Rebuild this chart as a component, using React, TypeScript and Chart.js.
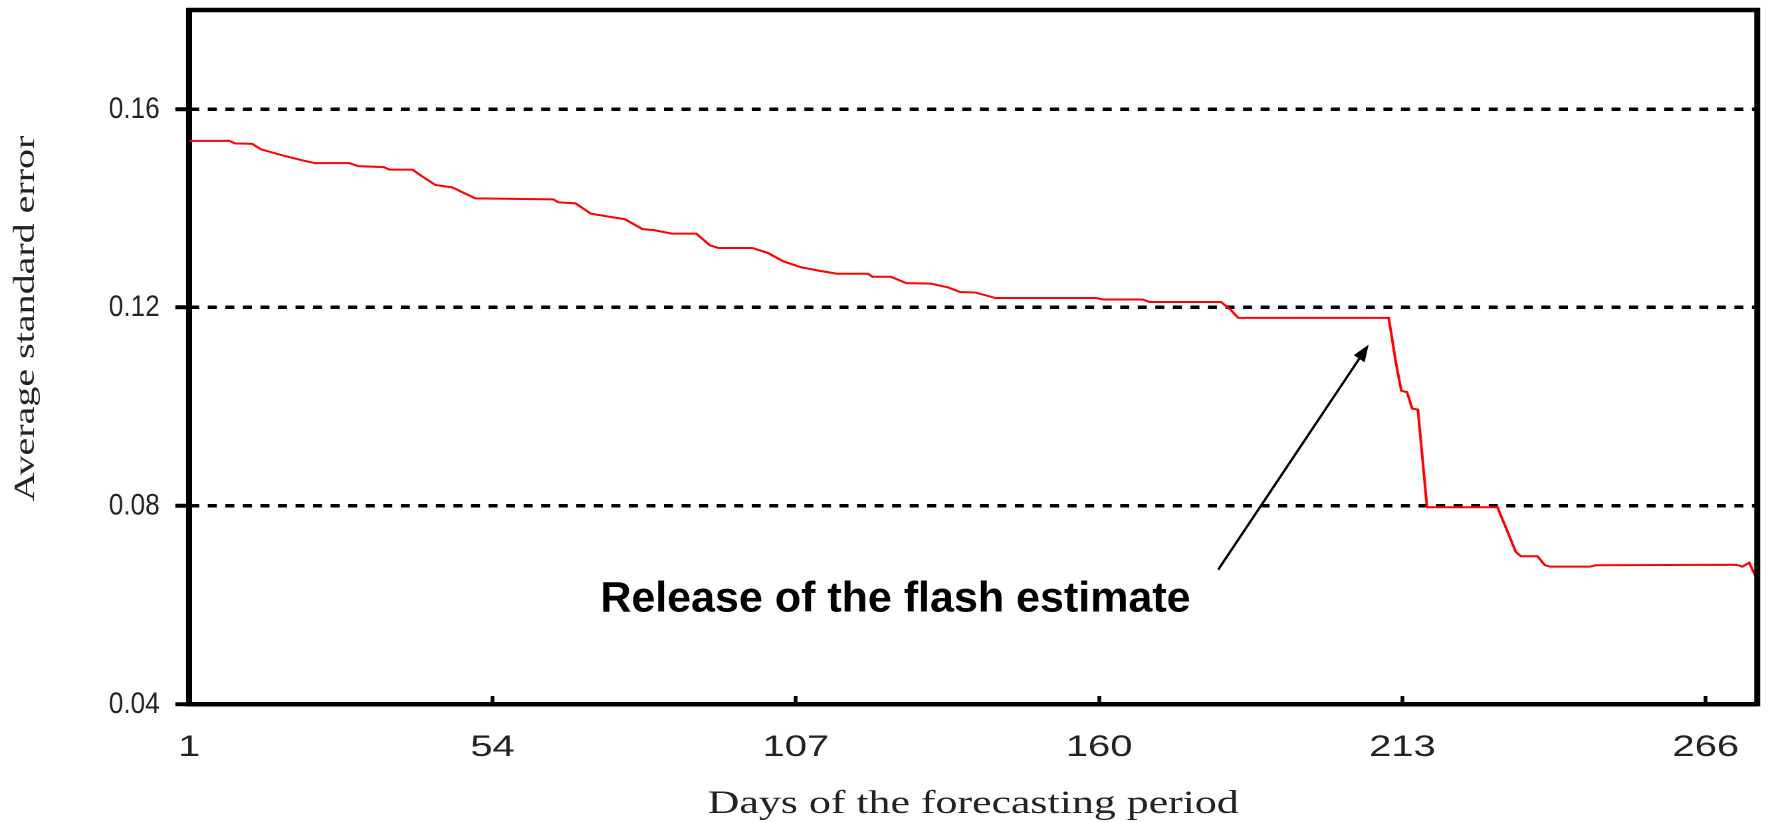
import React, { useEffect, useRef } from 'react';
import { Chart, registerables } from 'chart.js';

Chart.register(...registerables);

// ---- data ----
const days = [1, 8, 9, 12, 13.5, 17.5, 21, 23, 29, 30.5, 35, 36, 40, 42, 44, 47, 48.6, 51, 64.6, 65.5, 68.5, 71.2, 74.4, 77.1, 80.2, 82.2, 85.3, 89.6, 92, 93.5, 99.4, 102.1, 104.8, 107.9, 111.1, 114.2, 119.6, 120.4, 123.6, 126.3, 130.6, 133.7, 135.7, 138.4, 141.9, 159.5, 160.6, 167.6, 168.8, 181.3, 183, 184.3, 210.6, 211.9, 212.8, 213.8, 214.7, 215.7, 217.3, 229.6, 231.5, 232.8, 233.7, 236.6, 237.9, 238.8, 245.8, 246.8, 271.4, 272.4, 273.6, 274.9];
const avgStdError = [0.1536, 0.1536, 0.1531, 0.1530, 0.1519, 0.1506, 0.1496, 0.1491, 0.1491, 0.1485, 0.1483, 0.1478, 0.1478, 0.1462, 0.1447, 0.1442, 0.1433, 0.1420, 0.1418, 0.1412, 0.1410, 0.1389, 0.1383, 0.1378, 0.1358, 0.1356, 0.1349, 0.1349, 0.1325, 0.1320, 0.1320, 0.1310, 0.1293, 0.1281, 0.1274, 0.1268, 0.1268, 0.1262, 0.1262, 0.1249, 0.1248, 0.1240, 0.1231, 0.1230, 0.1219, 0.1219, 0.1216, 0.1216, 0.1211, 0.1211, 0.1195, 0.1179, 0.1179, 0.1086, 0.1032, 0.1029, 0.0996, 0.0994, 0.0797, 0.0797, 0.0744, 0.0707, 0.0698, 0.0698, 0.0680, 0.0677, 0.0677, 0.0680, 0.0681, 0.0677, 0.0685, 0.0653];

const xTickValues = [1, 54, 107, 160, 213, 266];
const xTickLabels = ['1', '54', '107', '160', '213', '266'];
const yTickValues = [0.04, 0.08, 0.12, 0.16];
const yTickLabels = ['0.04', '0.08', '0.12', '0.16'];

const xTitle = 'Days of the forecasting period';
const yTitle = 'Average standard error';
const annotationText = 'Release of the flash estimate';
// annotation anchors in data coordinates [day, value]
const arrowTail = [180.8, 0.0671];
const arrowTip = [207.1, 0.1125];
const textAnchor = [124.4, 0.0587];

// ---- layout ----
const CSS_W = 1768;
const H = 823;
const W = 1330; // logical width, displayed stretched horizontally
const S = CSS_W / W;

const SANS = '"Liberation Sans", Arial, Helvetica, sans-serif';
const SERIF = '"Liberation Serif", "Times New Roman", serif';

const overlay = {
  id: 'overlay',
  afterDraw(chart: any) {
    const { ctx, chartArea: a, scales } = chart;
    const x = scales.x;
    const y = scales.y;
    ctx.save();
    ctx.strokeStyle = '#000';
    ctx.lineWidth = 4.5;
    ctx.lineCap = 'square';
    ctx.beginPath();
    ctx.moveTo(a.left, a.top);
    ctx.lineTo(a.right, a.top);
    ctx.lineTo(a.right, a.bottom);
    ctx.stroke();

    // everything below is drawn in page space (undo horizontal stretch)
    ctx.scale(1 / S, 1);

    // y tick labels, from the y scale's own ticks
    ctx.font = `30px ${SANS}`;
    ctx.fillStyle = '#222';
    ctx.textAlign = 'right';
    ctx.textBaseline = 'middle';
    const labelRight = y.right * S - 29.6;
    y.ticks.forEach((t: any) => {
      ctx.save();
      ctx.translate(labelRight, y.getPixelForValue(t.value) + 0.5);
      ctx.scale(0.87, 1);
      ctx.fillText(String(t.label), 0, 0);
      ctx.restore();
    });

    // y axis title (rotated, elongated)
    ctx.save();
    ctx.translate(26.5, 318.5);
    ctx.rotate(-Math.PI / 2);
    ctx.scale(1, 0.72);
    ctx.font = `40px ${SERIF}`;
    ctx.fillStyle = '#222';
    ctx.textAlign = 'center';
    ctx.textBaseline = 'middle';
    ctx.fillText(yTitle, 0, 0);
    ctx.restore();

    // arrow
    const tx = x.getPixelForValue(arrowTail[0]) * S;
    const ty = y.getPixelForValue(arrowTail[1]);
    const hx = x.getPixelForValue(arrowTip[0]) * S;
    const hy = y.getPixelForValue(arrowTip[1]);
    const ang = Math.atan2(hy - ty, hx - tx);
    const headLen = 17;
    const headHalf = 6.5;
    const bx = hx - headLen * Math.cos(ang);
    const by = hy - headLen * Math.sin(ang);
    ctx.lineCap = 'butt';
    ctx.lineWidth = 2.4;
    ctx.beginPath();
    ctx.moveTo(tx, ty);
    ctx.lineTo(bx, by);
    ctx.stroke();
    ctx.fillStyle = '#000';
    ctx.beginPath();
    ctx.moveTo(hx, hy);
    ctx.lineTo(bx + headHalf * Math.sin(ang), by - headHalf * Math.cos(ang));
    ctx.lineTo(bx - headHalf * Math.sin(ang), by + headHalf * Math.cos(ang));
    ctx.closePath();
    ctx.fill();

    // annotation text
    ctx.font = `bold 43px ${SANS}`;
    ctx.textAlign = 'center';
    ctx.textBaseline = 'alphabetic';
    ctx.fillText(annotationText, x.getPixelForValue(textAnchor[0]) * S, y.getPixelForValue(textAnchor[1]));
    ctx.restore();
  },
};

function makeConfig(): any {
  return {
    type: 'line',
    data: {
      datasets: [
        {
          data: days.map((d, i) => ({ x: d, y: avgStdError[i] })),
          borderColor: '#ff0000',
          borderWidth: 2,
          pointRadius: 0,
          tension: 0,
          fill: false,
        },
      ],
    },
    options: {
      animation: false,
      responsive: false,
      devicePixelRatio: 2,
      layout: { padding: { top: 10, right: 8.1, bottom: 0, left: 0 } },
      plugins: {
        legend: { display: false },
        tooltip: { enabled: false },
        title: { display: false },
      },
      scales: {
        x: {
          type: 'linear',
          min: 1,
          max: 275,
          afterBuildTicks: (s: any) => {
            s.ticks = xTickValues.map((v) => ({ value: v }));
          },
          afterFit: (s: any) => {
            s.height = 119;
            s.paddingLeft = 0;
            s.paddingRight = 0;
          },
          ticks: {
            autoSkip: false,
            maxRotation: 0,
            minRotation: 0,
            padding: 33.9,
            color: '#222',
            font: { family: SANS, size: 30 },
            callback: (_v: any, i: number) => xTickLabels[i],
          },
          grid: {
            display: true,
            drawOnChartArea: false,
            drawTicks: true,
            tickLength: -8,
            tickWidth: 2.8,
            tickColor: '#000',
          },
          border: { display: true, color: '#000', width: 4.5 },
          title: {
            display: true,
            text: xTitle,
            color: '#222',
            font: { family: SERIF, size: 33, lineHeight: 1 },
            padding: { top: 0, bottom: 2 },
          },
        },
        y: {
          type: 'linear',
          min: 0.04,
          max: 0.18,
          afterBuildTicks: (s: any) => {
            s.ticks = yTickValues.map((v) => ({ value: v }));
          },
          afterFit: (s: any) => {
            s.width = 142.4;
            s.paddingTop = 0;
            s.paddingBottom = 0;
          },
          ticks: {
            display: false,
            callback: (_v: any, i: number) => yTickLabels[i],
          },
          grid: {
            display: true,
            drawOnChartArea: true,
            drawTicks: true,
            color: '#000',
            lineWidth: 3.5,
            tickLength: 10.5,
            tickWidth: 4,
            tickColor: '#000',
            tickBorderDash: [],
          },
          border: { display: true, color: '#000', width: 4.5, dash: [6.8, 6.4], dashOffset: 1.4 },
          title: { display: false, text: yTitle },
        },
      },
    },
    plugins: [overlay],
  };
}

export default function App() {
  const ref = useRef<HTMLCanvasElement>(null);
  useEffect(() => {
    const chart = new Chart(ref.current as HTMLCanvasElement, makeConfig());
    return () => chart.destroy();
  }, []);
  return (
    <canvas
      ref={ref}
      width={W}
      height={H}
      style={{ position: 'absolute', left: 0, top: 0, width: `${CSS_W}px`, height: `${H}px`, background: '#fff' }}
    />
  );
}
